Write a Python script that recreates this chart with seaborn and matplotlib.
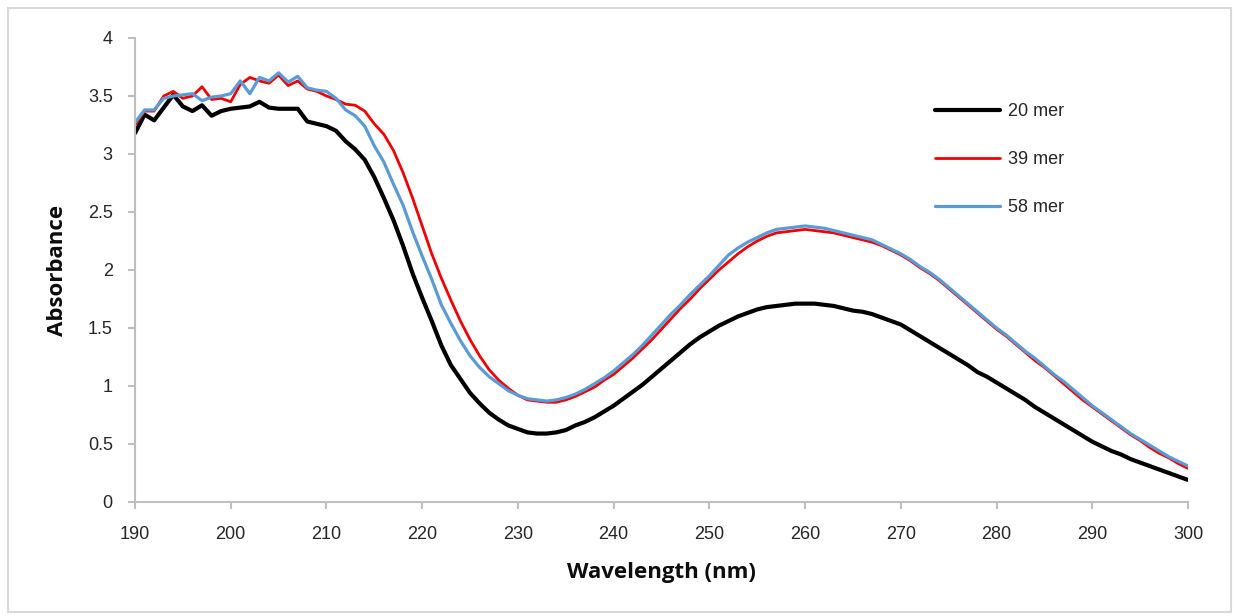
import numpy as np
import pandas as pd
import matplotlib
matplotlib.use("Agg")
import matplotlib.pyplot as plt
from matplotlib.patches import Rectangle
from matplotlib.lines import Line2D
from matplotlib.ticker import FuncFormatter, MultipleLocator
import seaborn as sns

# UV absorbance spectra, one reading per nm from 190 to 300 nm
wavelength = list(range(190, 301))

abs_20mer = [
    3.18, 3.34, 3.29, 3.40, 3.51, 3.41, 3.37, 3.42, 3.33, 3.37,
    3.39, 3.40, 3.41, 3.45, 3.40, 3.39, 3.39, 3.39, 3.28, 3.26,
    3.24, 3.20, 3.11, 3.04, 2.95, 2.80, 2.62, 2.43, 2.21, 1.97,
    1.76, 1.56, 1.35, 1.18, 1.06, 0.94, 0.85, 0.77, 0.71, 0.66,
    0.63, 0.60, 0.59, 0.59, 0.60, 0.62, 0.66, 0.69, 0.73, 0.78,
    0.83, 0.89, 0.95, 1.01, 1.08, 1.15, 1.22, 1.29, 1.36, 1.42,
    1.47, 1.52, 1.56, 1.60, 1.63, 1.66, 1.68, 1.69, 1.70, 1.71,
    1.71, 1.71, 1.70, 1.69, 1.67, 1.65, 1.64, 1.62, 1.59, 1.56,
    1.53, 1.48, 1.43, 1.38, 1.33, 1.28, 1.23, 1.18, 1.12, 1.08,
    1.03, 0.98, 0.93, 0.88, 0.82, 0.77, 0.72, 0.67, 0.62, 0.57,
    0.52, 0.48, 0.44, 0.41, 0.37, 0.34, 0.31, 0.28, 0.25, 0.22,
    0.19,
]

abs_39mer = [
    3.25, 3.37, 3.37, 3.50, 3.54, 3.48, 3.50, 3.58, 3.47, 3.48,
    3.45, 3.60, 3.66, 3.63, 3.61, 3.68, 3.59, 3.63, 3.56, 3.54,
    3.50, 3.47, 3.43, 3.42, 3.37, 3.26, 3.17, 3.03, 2.84, 2.62,
    2.38, 2.14, 1.93, 1.74, 1.56, 1.40, 1.26, 1.14, 1.05, 0.98,
    0.92, 0.88, 0.87, 0.86, 0.86, 0.88, 0.91, 0.95, 0.99, 1.05,
    1.10, 1.17, 1.24, 1.32, 1.40, 1.49, 1.58, 1.67, 1.75, 1.84,
    1.92, 2.00, 2.07, 2.14, 2.20, 2.25, 2.29, 2.32, 2.33, 2.34,
    2.35, 2.34, 2.33, 2.32, 2.30, 2.28, 2.26, 2.24, 2.21, 2.17,
    2.13, 2.08, 2.02, 1.97, 1.91, 1.84, 1.77, 1.70, 1.63, 1.56,
    1.49, 1.43, 1.36, 1.29, 1.22, 1.16, 1.09, 1.02, 0.95, 0.88,
    0.82, 0.76, 0.70, 0.64, 0.58, 0.53, 0.47, 0.42, 0.38, 0.33,
    0.29,
]

abs_58mer = [
    3.27, 3.38, 3.38, 3.48, 3.50, 3.51, 3.52, 3.46, 3.49, 3.50,
    3.52, 3.63, 3.52, 3.66, 3.63, 3.70, 3.62, 3.67, 3.57, 3.55,
    3.54, 3.48, 3.38, 3.33, 3.24, 3.07, 2.93, 2.74, 2.56, 2.33,
    2.12, 1.92, 1.70, 1.54, 1.39, 1.26, 1.16, 1.08, 1.02, 0.96,
    0.92, 0.89, 0.88, 0.87, 0.88, 0.90, 0.93, 0.97, 1.02, 1.07,
    1.13, 1.20, 1.27, 1.35, 1.44, 1.53, 1.62, 1.70, 1.79, 1.87,
    1.95, 2.04, 2.13, 2.19, 2.24, 2.28, 2.32, 2.35, 2.36, 2.37,
    2.38, 2.37, 2.36, 2.34, 2.32, 2.30, 2.28, 2.26, 2.22, 2.18,
    2.14, 2.09, 2.03, 1.98, 1.92, 1.85, 1.78, 1.71, 1.64, 1.57,
    1.50, 1.44, 1.37, 1.30, 1.24, 1.17, 1.10, 1.04, 0.97, 0.90,
    0.83, 0.77, 0.71, 0.65, 0.59, 0.54, 0.49, 0.44, 0.39, 0.35,
    0.31,
]

series_names = ["20 mer", "39 mer", "58 mer"]
series_values = [abs_20mer, abs_39mer, abs_58mer]
series_colors = ["#000000", "#f00000", "#5b9bd5"]
series_widths = [3.0, 2.0, 2.3]

df = pd.DataFrame({
    "Wavelength": np.tile(wavelength, len(series_names)),
    "Absorbance": np.concatenate(series_values),
    "Sample": np.repeat(series_names, len(wavelength)),
})

sns.set_theme(style="white")
plt.rcParams["font.family"] = ["Liberation Sans", "DejaVu Sans"]

W, H = 1235, 616
fig = plt.figure(figsize=(W / 100, H / 100), dpi=100)
ax = fig.add_axes([135 / W, 1 - 502 / H, 1053 / W, 464 / H])

for name, color, lw in zip(series_names, series_colors, series_widths):
    sns.lineplot(data=df[df["Sample"] == name], x="Wavelength", y="Absorbance",
                 color=color, linewidth=lw, ax=ax, legend=False)

ax.set_xlim(190, 300)
ax.set_ylim(0, 4)
ax.xaxis.set_major_locator(MultipleLocator(10))
ax.yaxis.set_major_locator(MultipleLocator(0.5))
ax.yaxis.set_major_formatter(FuncFormatter(lambda v, p: f"{v:g}"))

axis_gray = "#bfbfbf"
for side in ["top", "right"]:
    ax.spines[side].set_visible(False)
for side in ["left", "bottom"]:
    ax.spines[side].set_color(axis_gray)
    ax.spines[side].set_linewidth(1.5)

ax.tick_params(axis="both", which="major", direction="out", length=5,
               width=1.5, color=axis_gray, labelsize=13, labelcolor="#262626")
ax.tick_params(axis="x", pad=12, bottom=True)
ax.tick_params(axis="y", pad=11, left=True)

label_font = {"family": ["Open Sans", "DejaVu Sans"], "weight": "bold", "size": 16}
ax.set_xlabel("Wavelength (nm)", fontdict=label_font, labelpad=14, color="#0d0d0d")
ax.set_ylabel("Absorbance", fontdict=label_font, labelpad=14, color="#0d0d0d")

handles = [Line2D([0], [0], color=c, linewidth=lw)
           for c, lw in zip(series_colors, series_widths)]
ax.legend(handles, series_names, loc="upper left",
          bbox_to_anchor=(935 / W, 1 - 103 / H), bbox_transform=fig.transFigure,
          frameon=False, fontsize=13, handlelength=3.6, handletextpad=0.45,
          labelspacing=1.72, borderpad=0, borderaxespad=0,
          labelcolor="#262626")

# light outer frame around the chart area
fig.patches.append(Rectangle((8 / W, 1 - 612 / H), (1231 - 8) / W, (612 - 8) / H,
                             transform=fig.transFigure, fill=False,
                             edgecolor="#d9d9d9", linewidth=1.5))

fig.savefig("out.png", dpi=100, facecolor="white")
